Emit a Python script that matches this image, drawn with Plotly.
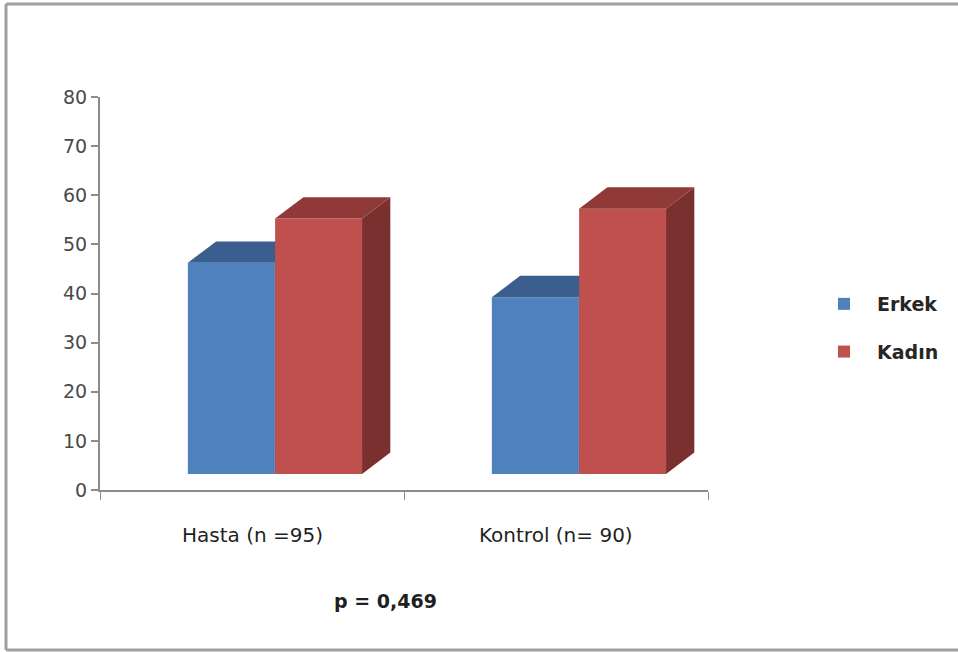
import plotly.graph_objects as go

# Patient / control groups, counts by sex
groups = ["Hasta (n =95)", "Kontrol (n= 90)"]
erkek = [43, 36]
kadin = [52, 54]
y_ticks = [0, 10, 20, 30, 40, 50, 60, 70, 80]
p_text = "p = 0,469"

# Styling for the pseudo-3D columns
FLOOR = 3.26          # front plane sits slightly above the back-wall zero line
DX, DY = 0.093, 4.35  # depth offset of top/side faces (x units, y units)
BAR_W = 0.286
# each series lives on its own overlaid subplot so the later one paints on top
series = [
    ("Erkek", erkek, 0.289, "#4F81BD", "#3A5F8E", "#2F4E75", "x", "y"),
    ("Kadın", kadin, 0.576, "#C0504D", "#8F3A38", "#7A302E", "x2", "y2"),
]

fig = go.Figure()

for name, vals, off, c_front, c_top, c_side, xa, ya in series:
    # front faces
    fig.add_trace(go.Bar(
        x=list(range(len(groups))), y=vals, base=FLOOR,
        offset=off, width=BAR_W, name=name, legendgroup=name,
        marker=dict(color=c_front, line=dict(width=0)),
        xaxis=xa, yaxis=ya, hoverinfo="skip",
    ))
    for i, v in enumerate(vals):
        x0, x1 = i + off, i + off + BAR_W
        top = FLOOR + v
        # right side face
        fig.add_trace(go.Scatter(
            x=[x1, x1 + DX, x1 + DX, x1, x1],
            y=[FLOOR, FLOOR + DY, top + DY, top, FLOOR],
            fill="toself", fillcolor=c_side, mode="lines",
            line=dict(width=0, color=c_side), showlegend=False,
            xaxis=xa, yaxis=ya, hoverinfo="skip",
        ))
        # top face
        fig.add_trace(go.Scatter(
            x=[x0, x1, x1 + DX, x0 + DX, x0],
            y=[top, top, top + DY, top + DY, top],
            fill="toself", fillcolor=c_top, mode="lines",
            line=dict(width=0, color=c_top), showlegend=False,
            xaxis=xa, yaxis=ya, hoverinfo="skip",
        ))

W, H = 958, 652
FONT = "'DejaVu Sans', sans-serif"
AXIS_GRAY = "#8C8C8C"

# category labels under each group
for i, g in enumerate(groups):
    fig.add_annotation(
        x=i + 0.5, xref="x", y=1 - 535 / H, yref="paper",
        xanchor="center", yanchor="middle",
        text=g, showarrow=False,
        font=dict(family=FONT, size=20, color="#1F1F1F"),
    )

fig.add_annotation(
    x=385 / W, xref="paper", y=1 - 601 / H, yref="paper",
    xanchor="center", yanchor="middle",
    text=f"<b>{p_text}</b>", showarrow=False,
    font=dict(family=FONT, size=19, color="#1F1F1F"),
)

# outer frame (left, top, bottom edges)
frame = dict(color="#A0A0A0", width=3)
fig.add_shape(type="line", xref="paper", yref="paper",
              x0=6 / W, x1=6 / W, y0=1 - 4 / H, y1=1 - 650 / H, line=frame)
fig.add_shape(type="line", xref="paper", yref="paper",
              x0=6 / W, x1=1, y0=1 - 4 / H, y1=1 - 4 / H, line=frame)
fig.add_shape(type="line", xref="paper", yref="paper",
              x0=6 / W, x1=1, y0=1 - 650 / H, y1=1 - 650 / H, line=frame)

x_dom = [100 / W, 708 / W]
y_dom = [1 - 490 / H, 1 - 97 / H]

fig.update_layout(
    width=W, height=H,
    margin=dict(l=0, r=0, t=0, b=0, pad=0, autoexpand=False),
    paper_bgcolor="white", plot_bgcolor="white",
    barmode="overlay",
    showlegend=True,
    legend=dict(
        x=811 / W, y=1 - 285 / H, xanchor="left", yanchor="top",
        traceorder="grouped", tracegroupgap=20, itemwidth=56,
        font=dict(family=FONT, size=19, color="#262626", weight="bold"),
        bgcolor="rgba(0,0,0,0)",
    ),
    xaxis=dict(
        domain=x_dom, range=[0, 2],
        tickvals=[0, 1, 2], ticktext=["", "", ""],
        ticks="outside", ticklen=8, tickcolor=AXIS_GRAY, tickwidth=1,
        showline=True, linecolor=AXIS_GRAY, linewidth=2,
        showgrid=False, zeroline=False, fixedrange=True,
    ),
    yaxis=dict(
        domain=y_dom, range=[0, 80],
        tickvals=y_ticks, ticks="outside", ticklen=7,
        tickcolor=AXIS_GRAY, tickwidth=2,
        showline=True, linecolor=AXIS_GRAY, linewidth=2,
        showgrid=False, zeroline=False,
        tickfont=dict(family=FONT, size=19, color="#4A4A4A"),
        ticklabelstandoff=0,
    ),
    xaxis2=dict(
        domain=x_dom, range=[0, 2], overlaying="x", anchor="y2",
        visible=False, fixedrange=True,
    ),
    yaxis2=dict(
        domain=y_dom, range=[0, 80], overlaying="y", anchor="x2",
        visible=False,
    ),
)

fig.write_html("out.html")
